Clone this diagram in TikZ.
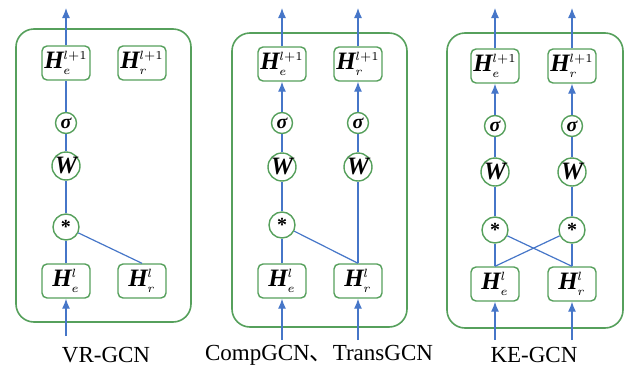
\documentclass[tikz,border=0pt]{standalone}
\usepackage{amsmath}
\usepackage{fontspec}
\setmainfont{Liberation Serif}
\newfontfamily\cjk{Noto Sans CJK SC}
\usepackage{tikz}
\usepackage{xcolor}
\usetikzlibrary{positioning, arrows.meta}
\definecolor{kgreen}{RGB}{86,160,92}
\definecolor{kblue}{RGB}{70,118,200}
\newcommand{\hmat}[2]{\textbf{\textit{H}}\kern-0.5pt$_{\scriptscriptstyle #1}^{\scriptscriptstyle #2}$}

\begin{document}
\begin{tikzpicture}[
    x=0.5pt, y=-0.5pt,
    hbox/.style={rectangle, draw=kgreen, line width=0.7pt, rounded corners=2.5pt, fill=white, minimum width=24pt, minimum height=17pt, inner sep=0pt, font=\fontsize{12.5}{13}\selectfont},
    sig/.style={circle, draw=kgreen, line width=0.7pt, fill=white, minimum size=10.5pt, inner sep=0pt, font=\fontsize{10}{11}\selectfont\bfseries\itshape},
    wop/.style={circle, draw=kgreen, line width=0.7pt, fill=white, minimum size=14pt, inner sep=0pt, font=\fontsize{12.5}{13}\selectfont\bfseries\itshape},
    star/.style={circle, draw=kgreen, line width=0.7pt, fill=white, minimum size=13pt, inner sep=0pt, font=\bfseries},
    panel/.style={draw=kgreen, line width=0.8pt, rounded corners=9pt},
    link/.style={draw=kblue, line width=0.6pt},
    arrow/.style={-{Latex[length=5pt, width=4pt]}, draw=kblue, line width=0.6pt},
    caption/.style={font=\fontsize{11.5}{13}\selectfont}
]
\useasboundingbox (0,0) rectangle (627,370);

% VR-GCN
\draw[panel] (16,29) rectangle (191,322);
\node[hbox] (ae1) at (66,63) {\hmat{e}{l+1}};
\node[hbox] (ar1) at (142,63) {\hmat{r}{l+1}};
\node[sig] (asig) at (66,123) {σ};
\node[wop] (aw) at (66,166) {W};
\node[star] (astar) at (66,227) {*};
\node[hbox] (ae0) at (66,281) {\hmat{e}{l}};
\node[hbox] (ar0) at (142,281) {\hmat{r}{l}};
\coordinate (atop) at (66,8);
\coordinate (abot) at (66,336);
\draw[link] (asig) -- (ae1);
\draw[link] (aw) -- (asig);
\draw[link] (astar) -- (aw);
\draw[link] (ae0) -- (astar);
\draw[link] (ar0.north) -- (astar);
\draw[arrow] (ae1) -- (atop);
\draw[arrow] (abot) -- (ae0);
\node[caption] (alab) at (106,355) {VR-GCN};

% CompGCN, TransGCN
\draw[panel] (232,33) rectangle (407,327);
\node[hbox] (be1) at (282,64) {\hmat{e}{l+1}};
\node[hbox] (br1) at (358,64) {\hmat{r}{l+1}};
\node[sig] (besig) at (282,123) {σ};
\node[sig] (brsig) at (358,123) {σ};
\node[wop] (bew) at (282,167) {W};
\node[wop] (brw) at (358,167) {W};
\node[star] (bstar) at (282,225) {*};
\node[hbox] (be0) at (282,281) {\hmat{e}{l}};
\node[hbox] (br0) at (358,281) {\hmat{r}{l}};
\coordinate (betop) at (282,8);
\coordinate (brtop) at (358,8);
\coordinate (bebot) at (282,340);
\coordinate (brbot) at (358,340);
\draw[arrow] (besig) -- (be1);
\draw[arrow] (brsig) -- (br1);
\draw[link] (bew) -- (besig);
\draw[link] (brw) -- (brsig);
\draw[link] (bstar) -- (bew);
\draw[link] (be0) -- (bstar);
\draw[link] (br0) -- (brw);
\draw[link] (br0.north) -- (bstar);
\draw[arrow] (be1) -- (betop);
\draw[arrow] (br1) -- (brtop);
\draw[arrow] (bebot) -- (be0);
\draw[arrow] (brbot) -- (br0);
\node[caption] (blab) at (319,355) {CompGCN{\cjk 、}TransGCN};

% KE-GCN
\draw[panel] (447,33) rectangle (623,328);
\node[hbox] (ce1) at (495,66) {\hmat{e}{l+1}};
\node[hbox] (cr1) at (572,66) {\hmat{r}{l+1}};
\node[sig] (cesig) at (495,126) {σ};
\node[sig] (crsig) at (572,126) {σ};
\node[wop] (cew) at (495,172) {W};
\node[wop] (crw) at (572,172) {W};
\node[star] (cestar) at (495,230) {*};
\node[star] (crstar) at (572,230) {*};
\node[hbox] (ce0) at (495,284) {\hmat{e}{l}};
\node[hbox] (cr0) at (572,284) {\hmat{r}{l}};
\coordinate (cetop) at (495,8);
\coordinate (crtop) at (572,8);
\coordinate (cebot) at (495,340);
\coordinate (crbot) at (572,340);
\draw[arrow] (cesig) -- (ce1);
\draw[arrow] (crsig) -- (cr1);
\draw[link] (cew) -- (cesig);
\draw[link] (crw) -- (crsig);
\draw[link] (cestar) -- (cew);
\draw[link] (crstar) -- (crw);
\draw[link] (ce0) -- (cestar);
\draw[link] (cr0) -- (crstar);
\draw[link] (cr0.north) -- (cestar);
\draw[link] (ce0.north) -- (crstar);
\draw[arrow] (ce1) -- (cetop);
\draw[arrow] (cr1) -- (crtop);
\draw[arrow] (cebot) -- (ce0);
\draw[arrow] (crbot) -- (cr0);
\node[caption] (clab) at (534,355) {KE-GCN};

\end{tikzpicture}
\end{document}
